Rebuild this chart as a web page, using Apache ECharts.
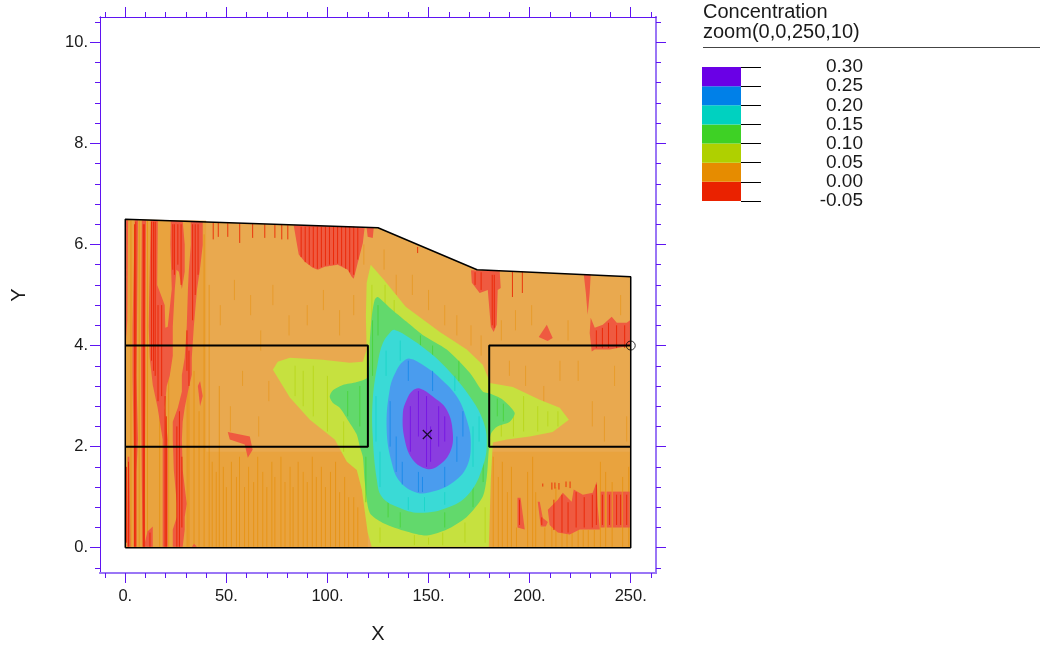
<!DOCTYPE html>
<html><head><meta charset="utf-8"><style>html,body{margin:0;background:#fff}#c{width:1040px;height:645px}</style>
<script src="https://cdn.jsdelivr.net/npm/echarts@6/dist/echarts.min.js"></script></head><body><div id="c"></div>
<script>
const xLabels=[0,50,100,150,200,250];
const yLabels=[0,2,4,6,8,10];
const xMinor=[-10,10,20,30,40,60,70,80,90,110,120,130,140,160,170,180,190,210,220,230,240,260];
const yMinor=[-0.4,0.4,0.8,1.2,1.6,2.4,2.8,3.2,3.6,4.4,4.8,5.2,5.6,6.4,6.8,7.2,7.6,8.4,8.8,9.2,9.6,10.4];
const levels=[-0.05,0,0.05,0.10,0.15,0.20,0.25,0.30];

const domain=[[0,0],[0,6.5],[125,6.33],[174,5.5],[250,5.36],[250,0]];
const boxLeft=[[0,4],[120,4],[120,2],[0,2]];
const boxRight=[[250,4],[180,4],[180,2],[250,2]];
const maxPoint=[[149.4,2.24]];
const probePoint=[[250,4]];

const orangeDense=[
 [[0,0],[40,0],[40,6.47],[0,6.5]],
 [[40,0],[120,0],[120,1.9],[40,1.9]],
 [[180,0],[250,0],[250,1.9],[180,1.9]]
];
const redBand=[
 [[0.2,6.48],[1.4,6.48],[1,4.5],[0.2,4]],
 [[4.7,6.48],[6.3,6.48],[5.8,4.37],[5.5,3.4],[6.3,2.14],[5.5,1.5],[5.5,0.02],[4.2,0.02],[4.2,2],[3.6,3.4],[3.6,4.37]],
 [[8.2,6.48],[10.3,6.48],[10,4.37],[10,3.4],[9.8,2.14],[9.6,1],[9.8,0.02],[8.6,0.02],[8.2,1.2],[8,2.14],[7.8,3.4],[7.8,4.37]],
 [[1.2,1.8],[2,1.8],[2.6,0.02],[0.8,0.02]],
 [[12.6,6.48],[16.1,6.48],[15.8,5.2],[19.5,4.8],[19.8,4.35],[21,4.37],[23,5.12],[22.3,6],[22.5,6.47],[28.4,6.46],[29.4,6],[29.4,5.46],[28,5.12],[26.5,5.46],[25.3,5.5],[24.5,5.12],[23.5,4.37],[23.5,3.8],[22,3.4],[20.5,3.2],[19.5,2.77],[21,2.14],[21,0.02],[18.5,0.02],[18.5,2.14],[16,2.77],[13.6,3.22],[12.1,3.76],[11.6,4.37],[11.8,4.9]],
 [[32.4,6.45],[38.3,6.45],[38.3,5.99],[36.8,5.46],[35.5,5.12],[33.9,4.37],[32.9,3.76],[32.9,3.42],[31,3.09],[29.4,2.77],[28.4,2.49],[28,2.14],[28.4,1.54],[30.4,0.87],[29.4,0.61],[29.4,0.36],[28.4,0.02],[23.5,0.02],[23.5,0.36],[25.5,0.61],[25.5,0.87],[24,1.54],[23.5,2.14],[23.5,2.49],[26,2.77],[28,3.09],[28,3.42],[29.4,3.76],[30.4,4.37],[31,5.12],[31.4,5.46],[32.4,5.99]],
 [[9.2,0.02],[11,0.32],[13.6,0.42],[13.6,0.02]],
 [[35.9,3.2],[37,3.3],[38.3,3],[37,2.8]],
 [[33,0.02],[34,0.08],[35.4,0.02]],
 [[83.3,6.38],[84.8,6.03],[85.8,5.8],[88.8,5.66],[92.7,5.54],[95.2,5.5],[98.7,5.56],[105.1,5.6],[110,5.5],[112,5.36],[113,5.32],[115,5.64],[117.5,6.03],[118.4,6.34]],
 [[119.4,6.33],[119.9,6.15],[122.4,6.13],[122.9,6.33]],
 [[171,5.49],[171.4,5.24],[175.3,5.04],[179.3,5.1],[180.8,4.37],[182.2,4.27],[183.7,4.41],[184.2,5.1],[185.7,5.14],[185.2,5.47]],
 [[204.5,4.17],[208.5,4.41],[211.4,4.15],[208.9,4.09]],
 [[226.8,5.4],[230.2,5.4],[229.7,5.04],[228.7,4.61],[227.8,5.04]],
 [[230.2,4.55],[232.2,4.35],[236.2,4.41],[240.6,4.57],[243.1,4.45],[248,4.45],[250,4.51],[250,4],[239.6,3.92],[232.2,3.92],[230.7,3.88],[229.7,4.25]],
 [[209,0.75],[213.9,0.95],[216.4,1.09],[220.8,0.91],[221.8,1.15],[226.3,1.05],[231.2,1.09],[233.2,1.31],[233.7,0.81],[234.7,0.36],[229.7,0.36],[224.8,0.36],[219.8,0.26],[213.9,0.3],[209.9,0.45]],
 [[235.1,1.11],[237.1,1.11],[237.1,0.4],[235.1,0.4]],
 [[238.1,1.11],[240.6,1.11],[240.6,0.4],[238.1,0.4]],
 [[241.1,1.11],[245.6,1.11],[245.6,0.4],[241.1,0.4]],
 [[246,1.11],[249.5,1.11],[249.5,0.4],[246,0.4]],
 [[194,0.99],[195.5,0.99],[197.6,0.36],[194,0.4]],
 [[204,0.91],[205,0.91],[206.5,0.59],[209,0.51],[208,0.42],[205.5,0.42],[204.5,0.75]],
 [[50.7,2.29],[61.6,2.2],[63,1.94],[60.6,1.78],[59.1,2.04],[51.7,2.14]]
];
const yellowBand=[[[121.4,5.6],[127.9,5.3],[138.7,4.77],[155.6,4.27],[168.9,3.92],[176.8,3.62],[179.3,3.38],[180.3,3.26],[191.7,3.18],[205,2.93],[214.9,2.77],[219.4,2.53],[211.4,2.29],[200.1,2.2],[188.7,2.14],[181.8,2.08],[180.8,1.35],[179.8,0.02],[121.9,0.02],[119.9,0.3],[117,1.15],[114.5,1.54],[109.6,1.7],[103.6,2.14],[91.3,2.53],[81.4,2.97],[73,3.52],[75.4,3.68],[81.4,3.76],[97.7,3.72],[111,3.66],[117.5,3.68],[119.4,3.92],[119,4.57],[119.4,5.24]]];
const greenBand=[[[124.9,4.96],[130.8,4.75],[139.2,4.47],[147.1,4.21],[159,3.92],[170.4,3.46],[176.8,3.09],[180.3,3.05],[186.7,2.93],[192.6,2.67],[190.2,2.49],[183.7,2.39],[180.8,2.25],[179.8,1.94],[178.8,1.4],[176.8,1.01],[168.9,0.61],[159,0.36],[149.1,0.24],[139.2,0.32],[127.4,0.49],[120.9,0.69],[118.5,1.29],[117.5,1.8],[116,2],[114.5,2.24],[111,2.47],[106.1,2.77],[102.6,2.87],[101.1,2.99],[102.6,3.11],[107.6,3.22],[114.5,3.28],[119.9,3.38],[120.9,4.05],[121.9,4.57],[123.4,4.91]]];
const tealBand=[[[133.3,4.31],[140.7,4.15],[150.6,3.86],[160.5,3.48],[170.4,2.99],[176.8,2.53],[178.8,2.08],[176.8,1.6],[170.4,1.09],[160.5,0.81],[145.7,0.69],[134.3,0.81],[126.9,1.01],[124.4,1.35],[122.4,2.2],[122.4,2.93],[124.9,3.66],[127.4,4.05],[130.8,4.25]]];
const blueBand=[[[140.7,3.74],[147.1,3.62],[155.6,3.36],[164,2.99],[168.9,2.53],[170.9,2.08],[168.9,1.6],[162,1.29],[152.1,1.11],[144.2,1.09],[135.8,1.31],[131.8,1.68],[129.3,2.33],[130.8,3.13],[134.3,3.52],[137.3,3.68]]];
const purpleBand=[[[145.7,3.15],[152.1,2.99],[159,2.73],[162,2.27],[160.5,1.88],[154.1,1.6],[149.1,1.56],[142.2,1.74],[138.2,2.14],[137.3,2.67],[139.2,2.93],[142.2,3.11]]];

const orangeStreaks=[[2.8,0.02,6.47],[6.9,0.02,6.47],[11,0.02,6.47],[17,0.02,5],[21.5,0.02,3.6],[26,0.02,2],[30.6,0.02,3.6],[31.5,0.02,4.5],[34,0.02,3.5],[36.5,0.02,2.7],[39,0.02,6.2],[41.5,0.02,5.2],[43,0.02,1.7],[45,0.02,1.5],[46.5,0.02,3.2],[48.5,0.02,1.6],[50,0.02,1.2],[52.5,0.02,1.7],[55,0.02,1.4],[56.5,0.02,1.8],[59,0.02,1.2],[61,0.02,1.6],[63.5,0.02,1.3],[65.5,0.02,1.8],[68,0.02,1.5],[70,0.02,1.2],[72.5,0.02,1.7],[74,0.02,1.4],[77,0.02,1.8],[79,0.02,1.3],[81.5,0.02,1.6],[83,0.02,1.2],[85.5,0.02,1.7],[88,0.02,1.5],[90,0.02,1.3],[92.5,0.02,1.8],[94.5,0.02,1.4],[97,0.02,1.6],[99,0.02,1.2],[101.5,0.02,1.5],[104,0.02,1.7],[106,0.02,1.1],[108.5,0.02,1.4],[110.5,0.02,1.0],[113,0.02,1],[115,0.02,0.8],[182,0.02,1.8],[184.5,0.02,1.4],[186.5,0.02,1.7],[189,0.02,1.1],[191,0.02,1.6],[193.5,0.02,0.4],[199,0.02,1.5],[201.5,0.02,1.8],[203,0.02,1.1],[207.5,0.02,0.4],[211,0.02,0.5],[213,0.02,1.2],[216,0.02,0.3],[218.5,0.02,0.3],[221,0.02,0.3],[224,0.02,0.35],[226.5,0.02,0.35],[229,0.02,0.35],[232,0.02,0.35],[235,0.02,1.7],[237.6,0.02,1.5],[240.8,0.02,1.3],[246,0.02,1.4],[249,0.02,1.6]];
const orangeFlecks=[[52,2.3,2.8],[58,3.2,3.5],[66,2.2,2.6],[71,2.9,3.3],[47,4.4,4.8],[54,4.9,5.3],[62,4.6,5],[67,3.9,4.3],[73,4.8,5.2],[81,4.2,4.6],[90,4.4,4.8],[98,4.7,5.1],[106,4.2,4.7],[113,4.6,5],[118,5.6,6],[128,5.5,5.9],[134,5,5.4],[142,5,5.4],[150,4.7,5.1],[158,4.4,4.8],[164,4.2,4.6],[171,4,4.4],[176,3.8,4.2],[186,4.1,4.5],[190,3.4,3.7],[193,4.3,4.7],[198,3.2,3.6],[201,4.4,4.8],[207,2.8,3.2],[215,3.3,3.7],[219,4.1,4.5],[224,3.3,3.7],[231,2.4,2.9],[237,2.1,2.6],[242,3.2,3.6],[245,4.6,5],[248,2.1,2.6]];
const redStreaks=[[43.5,6.1,6.43],[46,6.15,6.43],[50.7,6.15,6.42],[56.6,6.03,6.42],[63,6.13,6.41],[69,6.13,6.4],[74,6.13,6.39],[77.4,6.1,6.39],[80.4,6.1,6.38],[191.5,4.96,5.46],[196.4,5.04,5.46],[144.6,5.83,5.95],
 [0.6,0.1,1.6],[1.6,0.02,1.7],[4.6,0.02,6.4],[5.2,0.02,6.45],[8.9,0.02,6.4],[9.4,0.02,6.4],[13,3.7,6.45],[14,3.5,6.45],[14.8,3.4,6.45],[16.2,2.9,4.8],[18,3,4.8],[19.7,0.02,3],[20.3,0.02,2.6],[23.5,5.5,6.4],[24.3,5.4,6.4],[26,5.6,6.4],[27.6,5.2,6.4],[33.3,4.5,6.4],[34.6,5,6.4],[36,5.4,6.4],[30.5,3.5,4.3],[31.5,3.2,3.9],[25.5,0.02,2.4],[26.8,0.02,2.7],[28,0.4,1.8],[12.2,0.02,0.3],
 [87,5.75,6.35],[89,5.65,6.35],[91,5.6,6.35],[93,5.55,6.35],[95,5.52,6.35],[97,5.55,6.35],[99,5.58,6.35],[101,5.6,6.35],[103,5.6,6.35],[105,5.62,6.35],[107,5.58,6.35],[109,5.52,6.35],[111,5.45,6.35],[113,5.4,6.35],[115,5.7,6.34],[173,5.2,5.45],[176,5.1,5.45],[181.5,4.4,5.4],[182.5,4.35,5.4],[233,3.95,4.3],[236,3.95,4.35],[239,3.95,4.45],[243,3.95,4.4],[247,3.95,4.4],
 [212,0.35,0.95],[216,0.3,1.05],[219,0.3,0.9],[223,0.4,1.1],[227,0.4,1],[231,0.4,1.05],[233,0.45,1.25],[236,0.45,1.05],[239.5,0.45,1.05],[243,0.45,1.05],[245,0.45,1.05],[248,0.45,1.05],[195,0.45,0.95],[206,0.45,0.6],
 [211,1.15,1.29],[212.5,1.17,1.29],[214.5,1.15,1.28],[218,1.2,1.31],[220,1.18,1.31],[206.5,1.21,1.27]];
const yellowStreaks=[[122,3.9,5.2],[126,0.1,0.4],[128.5,4.5,5.2],[133,4.6,4.9],[143,0.05,0.25],[150,0.06,0.2],[157,0.05,0.3],[168,0.1,0.5],[178,0.1,0.8],[186,2.2,2.6],[192,2.2,2.6],[197,2.3,3],[204,2.3,2.8],[209,2.4,2.7],[214,2.4,2.7],[84,3,3.6],[88,2.8,3.5],[93,2.6,3.6],[100,2.3,3.4],[108,1.9,2.5]];
const greenStreaks=[[122.3,3.4,4.5],[125,4.2,4.8],[130,0.6,0.9],[136,0.4,0.7],[146,4,4.2],[152,3.7,4],[158,0.4,0.7],[165,3.3,3.7],[172,0.8,1.3],[177,1.3,2],[184,2.6,2.95],[187,2.5,2.85],[110,2.6,3.1],[116,2.4,3.2],[119,0.9,1.8]];
const tealStreaks=[[124,2.1,3],[126,1.2,1.9],[129,3.4,3.9],[136,3.7,4.1],[140,0.75,1],[148,0.72,1],[158,0.85,1.1],[163,3.1,3.4],[172,1.6,2.4],[175,2.1,2.6]];
const blueStreaks=[[131,2,2.9],[134,1.5,2.2],[137,1.25,1.7],[140,3.3,3.7],[145,1.1,1.5],[147,1.1,1.4],[152,3.1,3.5],[158,1.2,1.6],[164,1.7,2.2],[167,2.2,2.7]];
const purpleStreaks=[[141,1.9,2.8],[145,2.2,3.1],[149,1.6,3],[151,1.7,2.4],[155,2,2.8],[158,2.1,2.6]];

const pale=['#EF5A40','#E9A94F','#C6E13F','#62D96C','#3ADAD6','#4A9CEE','#8A3DE0'];
const pure=['#EA2200','#E68C00','#AFD000','#3ED125','#00D1C0','#0080E8','#6A00E6'];
const axisDark='#5F14F2', axisPale='#9A76F6';
const font='"Liberation Sans", Arial, sans-serif';

function polySeries(polys,color,z,smooth){
  return {type:'custom',coordinateSystem:'cartesian2d',xAxisIndex:0,yAxisIndex:0,silent:true,z:z,clip:true,
    data:polys.map((p,i)=>[i]),
    renderItem:(params,api)=>({type:'polygon',shape:{points:polys[api.value(0)].map(q=>api.coord(q)),smooth:smooth||0},style:{fill:color}})};
}
function streakSeries(list,color,z,w,op){
  return {type:'custom',coordinateSystem:'cartesian2d',xAxisIndex:0,yAxisIndex:0,silent:true,z:z,clip:true,
    data:list,
    renderItem:(params,api)=>({type:'line',shape:(()=>{const a=api.coord([api.value(0),api.value(1)]),b=api.coord([api.value(0),api.value(2)]);return {x1:a[0],y1:a[1],x2:b[0],y2:b[1]};})(),style:{stroke:color,lineWidth:w,opacity:op}})};
}
function lineSeries(d,w,close,z){
  return {type:'line',xAxisIndex:0,yAxisIndex:0,data:close?d.concat([d[0]]):d,showSymbol:false,silent:true,z:z,clip:false,
    lineStyle:{color:'#000',width:w}};
}
function frameAxis(pos,vals,len,range,extra){
  const heavy=pos==='bottom'||pos==='right';
  return Object.assign({type:'value',gridIndex:0,position:pos,min:range[0],max:range[1],
    splitLine:{show:false},minorTick:{show:false},
    axisLine:{show:true,onZero:false,lineStyle:{color:heavy?axisPale:axisDark,width:heavy?2:1}},
    axisTick:{show:true,inside:false,length:len,customValues:vals,lineStyle:{color:axisDark,width:1}},
    axisLabel:{show:false}},extra||{});
}
const xr=[-12.5,262.5], yr=[-0.5,10.5];
const labelStyle={color:'#1a1a1a',fontFamily:font,fontSize:16.5};
const xAxes=[
  frameAxis('bottom',xLabels,10,xr,{name:'X',nameLocation:'middle',nameGap:51,nameTextStyle:{color:'#1a1a1a',fontFamily:font,fontSize:20},
    axisLabel:{show:true,customValues:xLabels,margin:15,formatter:v=>v+'.',...labelStyle}}),
  frameAxis('bottom',xMinor,5,xr),
  frameAxis('top',xLabels,10,xr),
  frameAxis('top',xMinor,5,xr),
  {type:'value',gridIndex:1,min:0,max:1,show:false}
];
const yAxes=[
  frameAxis('left',yLabels,10,yr,{name:'Y',nameLocation:'middle',nameGap:71,nameRotate:90,nameTextStyle:{color:'#1a1a1a',fontFamily:font,fontSize:20},
    axisLabel:{show:true,customValues:yLabels,margin:12,formatter:v=>v+'.',...labelStyle}}),
  frameAxis('left',yMinor,5,yr),
  frameAxis('right',yLabels,10,yr),
  frameAxis('right',yMinor,5,yr),
  {type:'value',gridIndex:1,position:'right',min:-0.05,max:0.30,interval:0.05,splitLine:{show:false},
    axisLine:{show:false,onZero:false},
    axisTick:{show:true,inside:false,length:20,lineStyle:{color:'#000',width:1}},
    axisLabel:{show:true,margin:122,align:'right',color:'#1a1a1a',fontFamily:font,fontSize:19,formatter:v=>v.toFixed(2)}}
];

const series=[
  polySeries([domain],pale[1],2),
  polySeries(orangeDense,'#E9A33E',2.1),
  streakSeries(orangeStreaks,pure[1],2.2,1,0.6),
  streakSeries(orangeFlecks,pure[1],2.3,1,0.45),
  polySeries(redBand,pale[0],3),
  streakSeries(redStreaks,pure[0],3.1,1,0.85),
  polySeries(yellowBand,pale[2],4),
  streakSeries(yellowStreaks,pure[2],4.1,1,0.5),
  polySeries(greenBand,pale[3],5,0.25),
  streakSeries(greenStreaks,pure[3],5.1,1,0.6),
  polySeries(tealBand,pale[4],6,0.4),
  streakSeries(tealStreaks,pure[4],6.1,1,0.5),
  polySeries(blueBand,pale[5],7,0.4),
  streakSeries(blueStreaks,pure[5],7.1,1,0.6),
  polySeries(purpleBand,pale[6],8,0.4),
  streakSeries(purpleStreaks,pure[6],8.1,1,0.6),
  lineSeries(domain,1.5,true,20),
  lineSeries(boxLeft,2,false,20),
  lineSeries(boxRight,2,false,20),
  {type:'scatter',xAxisIndex:0,yAxisIndex:0,data:maxPoint,silent:true,z:21,symbol:'path://M0 0L10 10M10 0L0 10',symbolSize:9,
    itemStyle:{color:'none',borderColor:'#000',borderWidth:1.2}},
  {type:'scatter',xAxisIndex:0,yAxisIndex:0,data:probePoint,silent:true,z:21,symbol:'circle',symbolSize:9,clip:false,
    itemStyle:{color:'none',borderColor:'#000',borderWidth:1}},
  {type:'custom',coordinateSystem:'cartesian2d',xAxisIndex:4,yAxisIndex:4,silent:true,z:5,
    data:levels.slice(0,-1).map((v,i)=>[v,levels[i+1],i]),
    renderItem:(params,api)=>{
      const a=api.coord([0,api.value(1)]),b=api.coord([1,api.value(0)]);
      return {type:'rect',shape:{x:a[0],y:a[1],width:b[0]-a[0],height:b[1]-a[1]},style:{fill:pure[api.value(2)]}};
    }}
];

const chart=echarts.init(document.getElementById('c'),null,{renderer:'canvas'});
chart.setOption({
  animation:false,backgroundColor:'#fff',
  title:{text:'Concentration\nzoom(0,0,250,10)',left:703,top:2,padding:0,textStyle:{color:'#1a1a1a',fontFamily:font,fontSize:20,fontWeight:'normal',lineHeight:20}},
  grid:[{left:100,top:17,width:556,height:556,outerBoundsMode:'none'},{left:702,top:67,width:39,height:134,outerBoundsMode:'none'}],
  xAxis:xAxes,yAxis:yAxes,series:series,
  graphic:[{type:'line',silent:true,shape:{x1:703,y1:47.5,x2:1040,y2:47.5},style:{stroke:'#444',lineWidth:1}}]
});
</script></body></html>
